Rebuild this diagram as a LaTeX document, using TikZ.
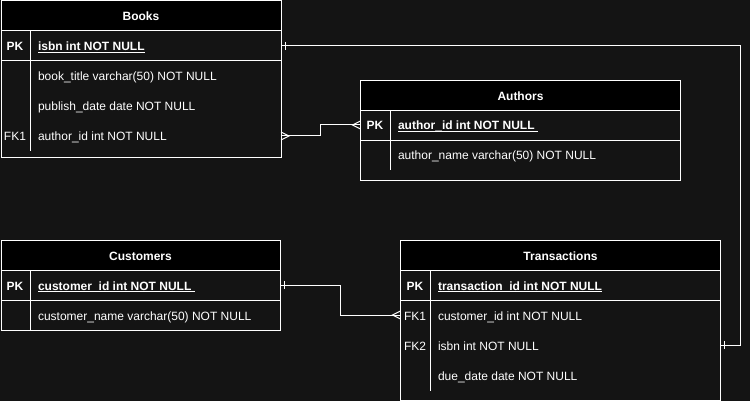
\documentclass[tikz,border=0pt]{standalone}
\usepackage{fontspec}
\setmainfont{Liberation Sans}
\usepackage{tikz}

\definecolor{bgdark}{RGB}{20,20,20}
\newcommand{\keyline}[1]{\underline{\smash{#1}}}

\begin{document}
\begin{tikzpicture}[x=1pt,y=-1pt,line width=1pt,white,
        every node/.style={inner sep=0pt,outer sep=0pt,text height=11pt,text depth=1pt,
            font=\fontsize{12}{14}\selectfont},
        head/.style={draw=white,fill=black,anchor=north west,minimum height=30pt,
            font=\fontsize{12}{14}\selectfont\bfseries},
        body/.style={draw=white,fill=bgdark,anchor=north west},
        fld/.style={anchor=west},
        bold/.style={font=\fontsize{12}{14}\selectfont\bfseries},
        one/.pic={\draw (4,-4) -- (4,4);},
        crow/.pic={\draw (0,-4) -- (8,0) -- (0,4);}]
        \fill[bgdark] (0,0) rectangle (750,401);
        \useasboundingbox (0,0) rectangle (750,401);

        % Books
        \node[head,minimum width=280pt] (books-h) at (1,1) {Books};
        \node[body,minimum width=280pt,minimum height=127pt] (books) at (books-h.south west) {};
        \draw ([yshift=-30pt]books.north west) -- ([yshift=-30pt]books.north east);
        \draw ([xshift=29pt]books.north west) -- ++(0,120);
        \node[bold] (b-pk) at (15,46) {PK};
        \node[fld,bold] (b-isbn) at (38,46) {\keyline{isbn int NOT NULL}};
        \node[fld] (b-title) at (38,76) {book\_title varchar(50) NOT NULL};
        \node[fld] (b-date) at (38,106) {publish\_date date NOT NULL};
        \node (b-fk) at (15,136) {FK1};
        \node[fld] (b-auth) at (38,136) {author\_id int NOT NULL};

        % Authors
        \node[head,minimum width=320pt] (authors-h) at (360.5,80.5) {Authors};
        \node[body,minimum width=320pt,minimum height=70pt] (authors) at (authors-h.south west) {};
        \draw ([yshift=-30pt]authors.north west) -- ([yshift=-30pt]authors.north east);
        \draw ([xshift=30pt]authors.north west) -- ++(0,60);
        \node[bold] (a-pk) at (375,125) {PK};
        \node[fld,bold] (a-id) at (398,125) {\keyline{author\_id int NOT NULL\ }};
        \node[fld] (a-name) at (398,155) {author\_name varchar(50) NOT NULL};

        % Customers
        \node[head,minimum width=279pt] (cust-h) at (1,240.5) {Customers};
        \node[body,minimum width=279pt,minimum height=60pt] (cust) at (cust-h.south west) {};
        \draw ([yshift=-30pt]cust.north west) -- ([yshift=-30pt]cust.north east);
        \draw ([xshift=29pt]cust.north west) -- ++(0,60);
        \node[bold] (c-pk) at (15,285) {PK};
        \node[fld,bold] (c-id) at (38,285) {\keyline{customer\_id int NOT NULL\ }};
        \node[fld] (c-name) at (38,315) {customer\_name varchar(50) NOT NULL};

        % Transactions
        \node[head,minimum width=320pt] (trans-h) at (400.5,240.5) {Transactions};
        \node[body,minimum width=320pt,minimum height=130pt] (trans) at (trans-h.south west) {};
        \draw ([yshift=-30pt]trans.north west) -- ([yshift=-30pt]trans.north east);
        \draw ([xshift=30pt]trans.north west) -- ++(0,120);
        \node[bold] (t-pk) at (415,285) {PK};
        \node[fld,bold] (t-id) at (438,285) {\keyline{transaction\_id int NOT NULL}};
        \node (t-fk1) at (415,315) {FK1};
        \node[fld] (t-cust) at (438,315) {customer\_id int NOT NULL};
        \node (t-fk2) at (415,345) {FK2};
        \node[fld] (t-isbn) at (438,345) {isbn int NOT NULL};
        \node[fld] (t-date) at (438,375) {due\_date date NOT NULL};

        % relations
        \draw (b-isbn -| books.east) -- ++(459,0) |- (t-isbn -| trans.east);
        \pic at (b-isbn -| books.east) {one};
        \pic at (t-isbn -| trans.east) {one};

        \draw (b-auth -| books.east) -- ++(39,0) |- (a-id -| authors.west);
        \pic at (b-auth -| books.east) {crow};
        \pic[xscale=-1] at (a-id -| authors.west) {crow};

        \draw (c-id -| cust.east) -- ++(60,0) |- (t-cust -| trans.west);
        \pic at (c-id -| cust.east) {one};
        \pic[xscale=-1] at (t-cust -| trans.west) {crow};
\end{tikzpicture}
\end{document}
